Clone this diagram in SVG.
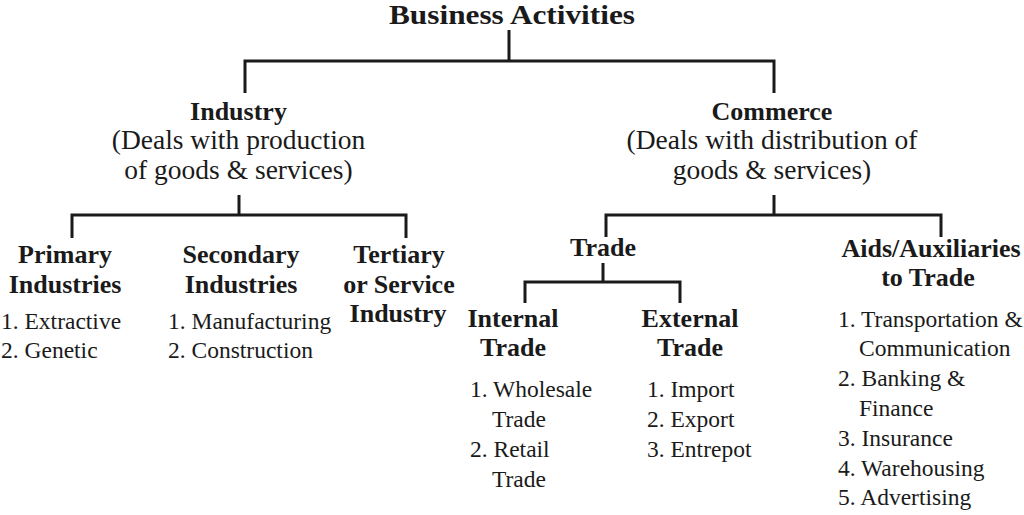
<svg xmlns="http://www.w3.org/2000/svg" width="1024" height="515" viewBox="0 0 1024 515">
<style>
text{font-family:"Liberation Serif","Times New Roman",serif;fill:#1a1a1a}
.t{font-size:27px;font-weight:bold;text-anchor:middle}
.h{font-size:26px;font-weight:bold;text-anchor:middle}
.d{font-size:27.5px;text-anchor:middle}
.l{font-size:23.5px}
.c{fill:none;stroke:#1a1a1a;stroke-width:3}
</style>
<rect width="1024" height="515" fill="#fff"/>
<g id="connectors">
<path class="c" d="M509 30V61M245 93V61H774V93"/>
<path class="c" d="M239 195V215M72 238V215H406V238"/>
<path class="c" d="M774 195V215M606 237V215H941V237"/>
<path class="c" d="M603 263V282M525 303V282H680V303"/>
</g>
<g id="business"><text class="t" x="512" y="24.2" textLength="246" lengthAdjust="spacingAndGlyphs">Business Activities</text></g>
<g id="industry">
<text class="h" x="238.5" y="120">Industry</text>
<text class="d" x="238.5" y="149">(Deals with production</text>
<text class="d" x="238.5" y="179">of goods &amp; services)</text>
</g>
<g id="commerce">
<text class="h" x="772" y="120">Commerce</text>
<text class="d" x="772" y="149">(Deals with distribution of</text>
<text class="d" x="772" y="179">goods &amp; services)</text>
</g>
<g id="primary">
<text class="h" x="65" y="263">Primary</text>
<text class="h" x="65" y="293">Industries</text>
<text class="l" x="1" y="329">1. Extractive</text>
<text class="l" x="1" y="358">2. Genetic</text>
</g>
<g id="secondary">
<text class="h" x="241" y="263">Secondary</text>
<text class="h" x="241" y="293">Industries</text>
<text class="l" x="168" y="329">1. Manufacturing</text>
<text class="l" x="168" y="358">2. Construction</text>
</g>
<g id="tertiary">
<text class="h" x="399" y="263">Tertiary</text>
<text class="h" x="399" y="293">or Service</text>
<text class="h" x="398" y="322">Industry</text>
</g>
<g id="trade"><text class="h" x="603" y="256">Trade</text></g>
<g id="internal">
<text class="h" x="513" y="327">Internal</text>
<text class="h" x="513" y="356">Trade</text>
<text class="l" x="470" y="397">1. Wholesale</text>
<text class="l" x="492" y="427">Trade</text>
<text class="l" x="470" y="457">2. Retail</text>
<text class="l" x="492" y="487">Trade</text>
</g>
<g id="external">
<text class="h" x="690" y="327">External</text>
<text class="h" x="690" y="356">Trade</text>
<text class="l" x="647" y="397">1. Import</text>
<text class="l" x="647" y="427">2. Export</text>
<text class="l" x="647" y="457">3. Entrepot</text>
</g>
<g id="aids">
<text class="h" x="931" y="257">Aids/Auxiliaries</text>
<text class="h" x="928" y="286">to Trade</text>
<text class="l" x="838" y="327">1. Transportation &amp;</text>
<text class="l" x="859" y="356">Communication</text>
<text class="l" x="838" y="386">2. Banking &amp;</text>
<text class="l" x="859" y="416">Finance</text>
<text class="l" x="838" y="446">3. Insurance</text>
<text class="l" x="838" y="476">4. Warehousing</text>
<text class="l" x="838" y="505">5. Advertising</text>
</g>
</svg>
